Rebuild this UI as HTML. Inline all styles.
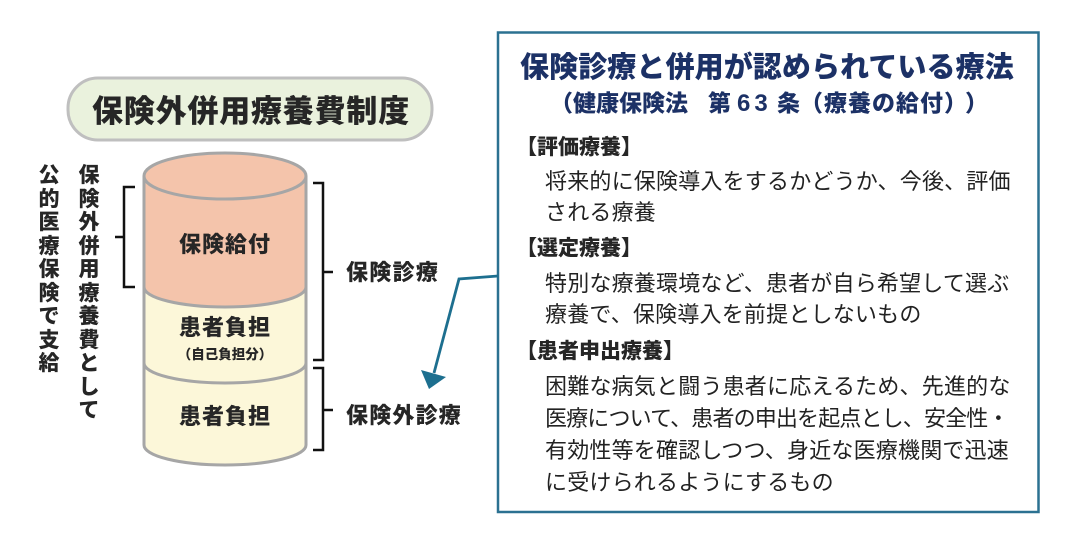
<!DOCTYPE html>
<html>
<head>
<meta charset="utf-8">
<style>
  html,body{margin:0;padding:0;background:#fff;}
  body{width:1069px;height:541px;position:relative;overflow:hidden;
    font-family:"Liberation Sans","Noto Sans CJK JP",sans-serif;color:#262626;}
  .a{position:absolute;white-space:nowrap;}
  .b{font-weight:900;}
  .vcol{position:absolute;width:26px;text-align:center;font-weight:900;font-size:21px;line-height:23.5px;color:#262626;}
  .navy{color:#1c3166;}
  .body{font-size:22px;letter-spacing:0.2px;line-height:22px;color:#222;}
  .hd{font-size:21px;line-height:21px;font-weight:900;color:#262626;}
</style>
</head>
<body>
<svg width="1069" height="541" style="position:absolute;left:0;top:0" xmlns="http://www.w3.org/2000/svg">
  <rect x="68" y="78" width="364" height="62" rx="30" ry="30" fill="#eaf2dd" stroke="#bfbfbf" stroke-width="3"/>
  <path d="M144,176 L144,445 A81,20 0 0 0 306,445 L306,176 Z" fill="#fcf7d9"/>
  <path d="M144,176 L144,287 A81,20 0 0 0 306,287 L306,176 Z" fill="#f4c4ab"/>
  <path d="M144,287 A81,20 0 0 0 306,287" fill="none" stroke="#a6a6a6" stroke-width="3"/>
  <path d="M144,363 A81,20 0 0 0 306,363" fill="none" stroke="#a6a6a6" stroke-width="3"/>
  <path d="M144,176 L144,445 A81,20 0 0 0 306,445 L306,176" fill="none" stroke="#a6a6a6" stroke-width="3"/>
  <ellipse cx="225" cy="176" rx="81" ry="23" fill="#f4c4ab" stroke="#a6a6a6" stroke-width="3"/>
  <path d="M135,187 H124 V287 H135 M124,237 H115" fill="none" stroke="#111" stroke-width="2.5"/>
  <path d="M313,183 H323 V360 H313 M323,272 H333" fill="none" stroke="#111" stroke-width="2.5"/>
  <path d="M313,368 H323 V450 H313 M323,410 H333" fill="none" stroke="#111" stroke-width="2.5"/>
  <rect x="498" y="32.5" width="540.5" height="479.5" fill="none" stroke="#2b7191" stroke-width="2.5"/>
  <path d="M498,276 L459,279 L434,373" fill="none" stroke="#1d6f8f" stroke-width="2.8"/>
  <polygon points="429,389 421,370 446,377" fill="#1d6f8f"/>
</svg>

<div class="a b" style="left:92px;top:95px;font-size:31px;line-height:34px;letter-spacing:0.8px;color:#262626;">保険外併用療養費制度</div>

<div class="vcol" style="left:36px;top:164px;">公<br>的<br>医<br>療<br>保<br>険<br>で<br>支<br>給</div>
<div class="vcol" style="left:76px;top:164px;">保<br>険<br>外<br>併<br>用<br>療<br>養<br>費<br>と<br>し<br>て</div>

<div class="a b" style="left:145px;width:160px;text-align:center;top:233px;font-size:22px;line-height:24px;letter-spacing:1px;">保険給付</div>
<div class="a b" style="left:145px;width:160px;text-align:center;top:316px;font-size:22px;line-height:24px;letter-spacing:1px;">患者負担</div>
<div class="a b" style="left:145px;width:160px;text-align:center;top:347px;font-size:13.5px;line-height:16px;">（自己負担分）</div>
<div class="a b" style="left:145px;width:160px;text-align:center;top:405px;font-size:22px;line-height:24px;letter-spacing:1px;">患者負担</div>

<div class="a b" style="left:346px;top:261px;font-size:22px;line-height:24px;letter-spacing:1.3px;">保険診療</div>
<div class="a b" style="left:346px;top:404px;font-size:22px;line-height:24px;letter-spacing:1.2px;">保険外診療</div>

<div class="a b navy" style="left:520px;top:52px;font-size:29px;line-height:32px;letter-spacing:0.1px;">保険診療と併用が認められている療法</div>
<div class="a b navy" style="left:550px;top:91px;font-size:23px;line-height:25px;">（健康保険法</div>
<div class="a b navy" style="left:708px;top:91px;font-size:23px;line-height:25px;">第</div>
<div class="a b navy" style="left:737px;top:91px;font-size:24px;line-height:25px;letter-spacing:4px;font-family:'Liberation Sans',sans-serif;font-weight:bold;">63</div>
<div class="a b navy" style="left:777px;top:91px;font-size:23px;line-height:25px;">条</div>
<div class="a b navy" style="left:800px;top:91px;font-size:23px;line-height:25px;letter-spacing:1px;">（療養の給付）</div>
<div class="a b navy" style="left:965px;top:91px;font-size:23px;line-height:25px;">）</div>

<div class="a hd" style="left:516px;top:137px;">【評価療養】</div>
<div class="a body" style="left:545px;top:171px;">将来的に保険導入をするかどうか、今後、評価</div>
<div class="a body" style="left:545px;top:202px;">される療養</div>

<div class="a hd" style="left:516px;top:238px;">【選定療養】</div>
<div class="a body" style="left:545px;top:273px;">特別な療養環境など、患者が自ら希望して選ぶ</div>
<div class="a body" style="left:545px;top:304px;">療養で、保険導入を前提としないもの</div>

<div class="a hd" style="left:516px;top:341px;">【患者申出療養】</div>
<div class="a body" style="left:545px;top:376px;">困難な病気と闘う患者に応えるため、先進的な</div>
<div class="a body" style="left:545px;top:408px;letter-spacing:-0.85px;">医療について、患者の申出を起点とし、安全性・</div>
<div class="a body" style="left:545px;top:440px;">有効性等を確認しつつ、身近な医療機関で迅速</div>
<div class="a body" style="left:545px;top:472px;">に受けられるようにするもの</div>
</body>
</html>
